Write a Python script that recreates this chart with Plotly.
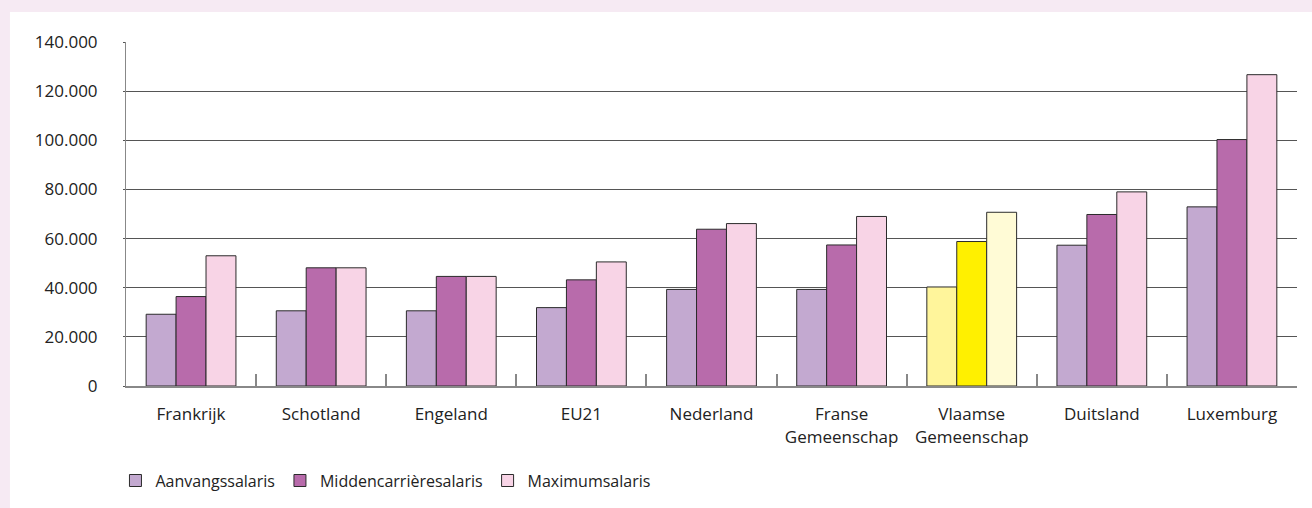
import plotly.graph_objects as go

countries = [
    "Frankrijk", "Schotland", "Engeland", "EU21", "Nederland",
    "Franse<br>Gemeenschap", "Vlaamse<br>Gemeenschap", "Duitsland", "Luxemburg",
]
aanvang = [29200, 30600, 30600, 31900, 39300, 39300, 40300, 57300, 72900]
midden = [36400, 48100, 44600, 43200, 63800, 57400, 58800, 69800, 100300]
maximum = [53000, 48100, 44600, 50500, 66100, 69000, 70700, 79000, 126700]

series = [
    ("Aanvangssalaris", aanvang, "#c3a9d0", "#fff59b"),
    ("Middencarrièresalaris", midden, "#b86bab", "#fff000"),
    ("Maximumsalaris", maximum, "#f8d4e6", "#fffbd6"),
]
highlight = "Vlaamse<br>Gemeenschap"

fig = go.Figure()
for name, values, color, hl_color in series:
    colors = [hl_color if c == highlight else color for c in countries]
    fig.add_trace(go.Bar(
        x=countries, y=values, name=name,
        marker=dict(color=colors, line=dict(color="#2b2b2b", width=1)),
    ))

fig.update_layout(
    width=1312, height=508,
    margin=dict(l=126, r=15, t=42, b=122, autoexpand=False),
    paper_bgcolor="#f6eaf3",
    plot_bgcolor="white",
    barmode="group", bargap=0.31, bargroupgap=0,
    separators=",.",
    font=dict(family="Open Sans", size=17, color="#222222"),
    showlegend=True,
    legend=dict(
        orientation="h", x=-0.009, xanchor="left", y=-0.275, yanchor="middle",
        font=dict(size=16), itemwidth=30, bgcolor="rgba(0,0,0,0)",
    ),
    # white panel over the pink page, leaving a pink strip left and top
    shapes=[dict(
        type="rect", xref="paper", yref="paper", layer="below",
        x0=-0.0991, x1=1.05, y0=-0.5, y1=1.0872,
        fillcolor="white", line=dict(width=0),
    )],
)
fig.update_yaxes(
    range=[0, 140000], dtick=20000, tickformat=",d",
    showgrid=True, gridcolor="#555555", gridwidth=1,
    showline=True, linecolor="#888888", linewidth=1,
    ticks="outside", ticklen=2, tickcolor="#555555",
    ticklabelstandoff=22, zeroline=False,
)
fig.update_xaxes(
    showline=True, linecolor="#888888", linewidth=2,
    tickson="boundaries", ticks="inside", ticklen=12, tickcolor="#888888",
    tickwidth=2, ticklabelstandoff=12,
)

fig.write_html(
    "out.html",
    config={"displayModeBar": False},
    post_script="document.body.style.margin='0';",
)
